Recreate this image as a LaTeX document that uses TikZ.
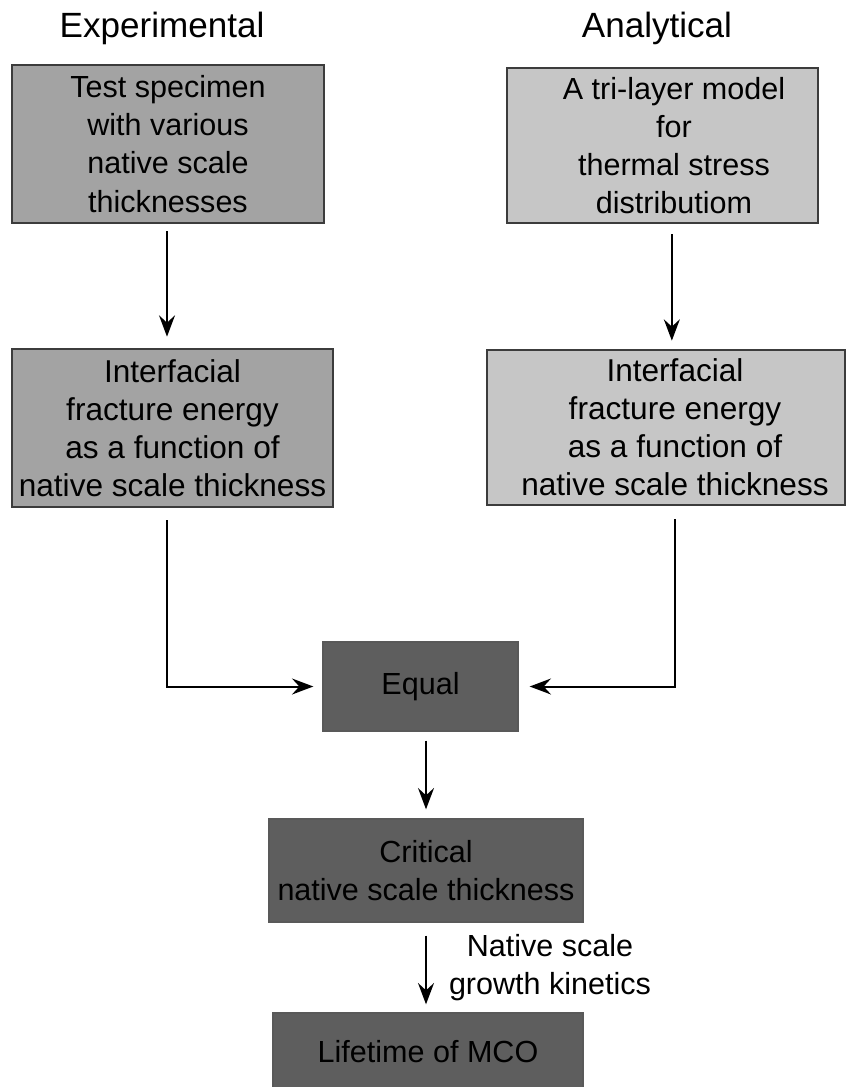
\documentclass[tikz,border=0pt]{standalone}
\usepackage{fontspec}
\setmainfont{Liberation Sans}
\usetikzlibrary{arrows.meta}
\definecolor{midgrey}{HTML}{A3A3A3}
\definecolor{lightgrey}{HTML}{C6C6C6}
\definecolor{darkgrey}{HTML}{5E5E5E}
\definecolor{edge}{HTML}{3C3C3C}
\newcommand{\boxtext}{\fontsize{22.9}{28.6}\selectfont}
\newcommand{\widetext}{\fontsize{23.7}{28.6}\selectfont}
\newcommand{\headtext}{\fontsize{26.3}{31}\selectfont}

\begin{document}
\begin{tikzpicture}[x=0.75pt,y=-0.75pt,font=\boxtext,
  stage/.style={draw=edge,line width=2pt,inner sep=0,align=center},
  result/.style={draw=edge!85,line width=1pt,fill=darkgrey,inner sep=0,align=center},
  flow/.style={line width=1.5pt,-{Stealth[length=16pt,width=12pt,inset=5.5pt]}}]
\useasboundingbox (0,0) rectangle (847,1087);
\node[anchor=base,font=\headtext] (exphead) at (162,38) {Experimental};
\node[anchor=base,font=\headtext] (anahead) at (657,38) {Analytical};
\node[stage,fill=midgrey,minimum width=234pt,minimum height=118.5pt] (test) at (168,144) {Test specimen\\with various\\native scale\\thicknesses};
\node[stage,fill=lightgrey,minimum width=233.25pt,minimum height=116.25pt,label={[align=center,xshift=8.6pt]center:{A tri-layer model\\for\\thermal stress\\distributiom}}] (tri) at (662.5,145.5) {};
\node[stage,fill=midgrey,minimum width=240.75pt,minimum height=118.5pt,font=\widetext] (ife) at (172.5,428) {Interfacial\\fracture energy\\as a function of\\native scale thickness};
\node[stage,fill=lightgrey,minimum width=268.5pt,minimum height=116.25pt,label={[align=center,xshift=6.75pt,font=\widetext]center:{Interfacial\\fracture energy\\as a function of\\native scale thickness}}] (ifa) at (666,427.5) {};
\node[result,minimum width=146.25pt,minimum height=66.75pt] (equal) at (420.5,686.5) {Equal};
\node[result,minimum width=235.5pt,minimum height=77.25pt] (crit) at (426,870.5) {Critical\\native scale thickness};
\node[result,minimum width=232.5pt,minimum height=57.75pt] (life) at (428,1051.5) {Lifetime of MCO};
\draw[flow,shorten <=5.25pt,shorten >=8.25pt] ([xshift=-0.75pt]test.south) -- ([xshift=-0.75pt]test.south |- ife.north);
\draw[flow,shorten <=7.5pt,shorten >=6pt] ([xshift=7pt]tri.south) -- ([xshift=7pt]tri.south |- ifa.north);
\draw[flow,shorten <=9pt,shorten >=6.75pt] ([xshift=-4.1pt]ife.south) |- (equal.west);
\draw[flow,shorten <=9.75pt,shorten >=8.25pt] ([xshift=6.75pt]ifa.south) |- (equal.east);
\draw[flow,shorten <=6.75pt,shorten >=6.75pt] (equal.south -| crit.north) -- (crit.north);
\draw[flow,shorten <=9.75pt,shorten >=6pt] (crit.south) -- (crit.south |- life.north) node[midway,anchor=west,inner sep=0,xshift=16.5pt,align=center] (kinetics) {Native scale\\growth kinetics};
\end{tikzpicture}
\end{document}
